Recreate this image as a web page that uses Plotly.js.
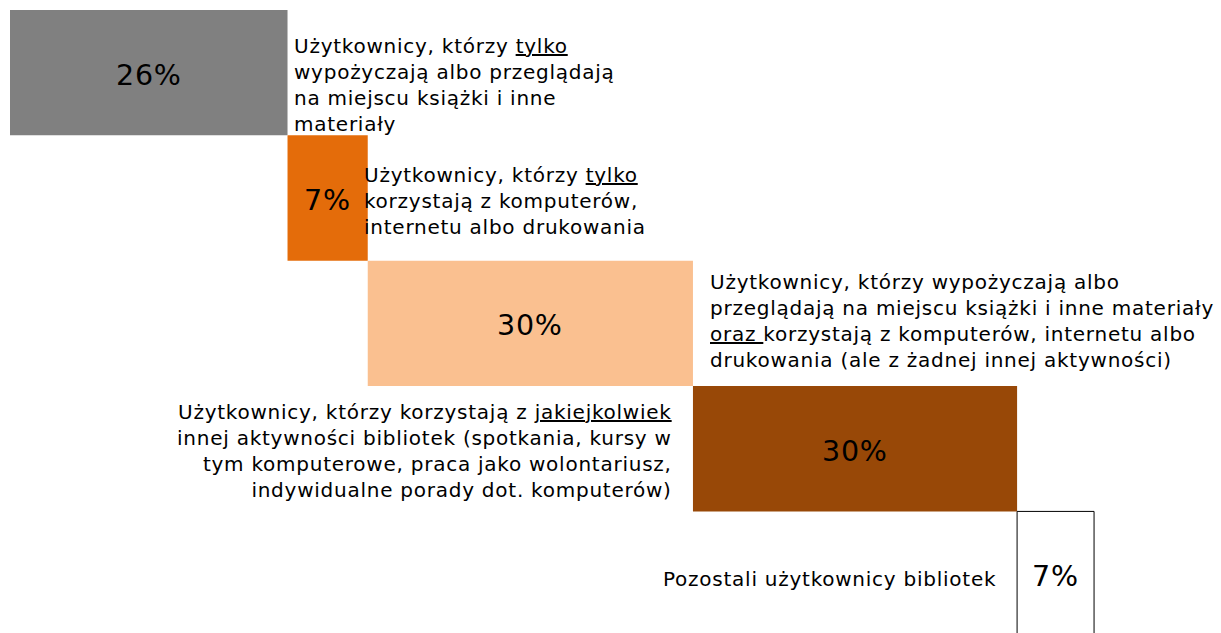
<!DOCTYPE html>
<html>
<head>
<meta charset="utf-8">
<script src="https://cdn.plot.ly/plotly-3.0.1.min.js"></script>
<style>
html,body{margin:0;padding:0;background:#fff;}
#chart{width:1221px;height:633px;}
svg text.annotation-text{letter-spacing:0.75px !important;}
svg g.value-label text.annotation-text{letter-spacing:0 !important;}
</style>
</head>
<body>
<div id="chart"></div>
<script>
// Data (share of library users, %)
const rows = [0, 1, 2, 3, 4];
const values = [25.6, 7.4, 30.0, 29.9, 7.1];
const valueLabels = ['26%', '7%', '30%', '30%', '7%'];
const categories = [
  'Użytkownicy, którzy <u>tylko</u><br>wypożyczają albo przeglądają<br>na miejscu książki i inne<br>materiały',
  'Użytkownicy, którzy <u>tylko</u><br>korzystają z komputerów,<br>internetu albo drukowania',
  'Użytkownicy, którzy wypożyczają albo<br>przeglądają na miejscu książki i inne materiały<br><u>oraz </u>korzystają z komputerów, internetu albo<br>drukowania (ale z żadnej innej aktywności)',
  'Użytkownicy, którzy korzystają z <u>jakiejkolwiek</u><br>innej aktywności bibliotek (spotkania, kursy w<br>tym komputerowe, praca jako wolontariusz,<br>indywidualne porady dot. komputerów)',
  'Pozostali użytkownicy bibliotek'
];
const colors = ['#808080', '#E46C0A', '#FAC090', '#984807', '#FFFFFF'];

// cumulative bases (waterfall)
const bases = [];
let acc = 0;
values.forEach(v => { bases.push(acc); acc += v; });

const FONT = 'DejaVu Sans, Verdana, sans-serif';

const trace = {
  type: 'bar',
  orientation: 'h',
  y: rows,
  x: values,
  base: bases,
  width: 1,
  marker: {
    color: colors,
    line: {color: '#000', width: [0, 0, 0, 0, 1]}
  },
  hoverinfo: 'skip'
};

// category label placement
const place = [
  {side: 'end', xanchor: 'left', xshift: 4, yshift: -12},
  {side: 'end', xanchor: 'left', xshift: -6, yshift: -3},
  {side: 'end', xanchor: 'left', xshift: 15, yshift: 2},
  {side: 'start', xanchor: 'right', xshift: -19, yshift: -2},
  {side: 'start', xanchor: 'right', xshift: -19, yshift: -5}
];

const catAnnotations = categories.map((t, i) => ({
  x: place[i].side === 'end' ? bases[i] + values[i] : bases[i],
  y: rows[i],
  xref: 'x', yref: 'y',
  text: t,
  showarrow: false,
  xanchor: place[i].xanchor,
  yanchor: 'middle',
  align: place[i].xanchor === 'left' ? 'left' : 'right',
  xshift: place[i].xshift,
  yshift: place[i].yshift,
  font: {family: FONT, size: 20, color: '#000'}
}));

const valueAnnotations = valueLabels.map((t, i) => ({
  x: bases[i] + values[i] / 2,
  y: rows[i],
  xref: 'x', yref: 'y',
  text: t,
  showarrow: false,
  xanchor: 'center',
  yanchor: 'middle',
  yshift: -2.5,
  font: {family: FONT, size: 28.5, color: '#000'}
}));

const layout = {
  width: 1221,
  height: 633,
  margin: {l: 10, r: 0, t: 9.5, b: 0, pad: 0},
  paper_bgcolor: '#fff',
  plot_bgcolor: '#fff',
  showlegend: false,
  bargap: 0,
  xaxis: {range: [0, 111.71], showgrid: false, zeroline: false, showticklabels: false, showline: false, fixedrange: true},
  yaxis: {range: [4.47, -0.5], showgrid: false, zeroline: false, showticklabels: false, showline: false, fixedrange: true},
  annotations: catAnnotations.concat(valueAnnotations)
};

Plotly.newPlot('chart', [trace], layout, {displayModeBar: false, staticPlot: true});
</script>
</body>
</html>
